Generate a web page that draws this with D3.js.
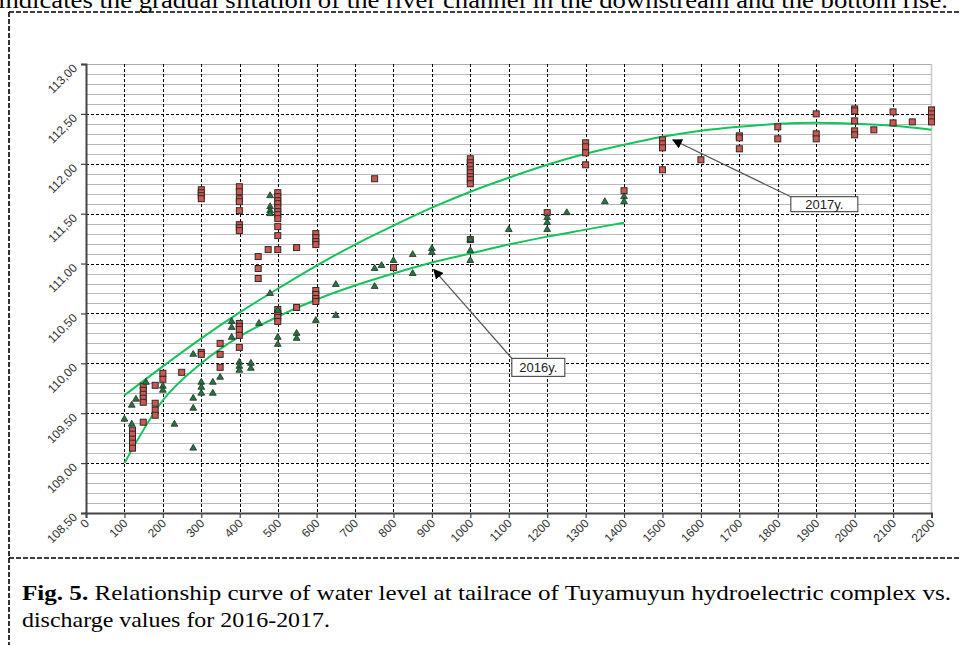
<!DOCTYPE html>
<html>
<head>
<meta charset="utf-8">
<script src="https://cdn.jsdelivr.net/npm/d3@7"></script>
<style>
  body { margin: 0; background: #fff; }
  svg { display: block; }
</style>
</head>
<body>
<svg width="960" height="645"></svg>
<script>
// measured points, 2017 (red squares)
var q2017 = [121,121,121,121,121, 149,149,149,149,149,149, 180,180,180,180, 200,200,
  249, 300,300,300,300,300,300, 349,349,349,
  399,399,399,399,399,399,399,399,399,399,399,399,399,
  448,448,448, 474,
  499,499,499,499,499,499,499,499,499,499,499,499,499,499,499,
  548,548, 598,598,598,598,598,598,598,598, 751, 800,
  1000,1000,1000,1000,1000,1000,1000,1000,1000, 1200, 1300,1300,1300,1300, 1400,
  1500,1500,1500,1500, 1600, 1700,1700,1700, 1800,1800, 1900,1900,1900,
  2000,2000,2000,2000,2000, 2050, 2100,2100, 2150, 2200,2200,2200,2200];
var h2017 = [109.33,109.29,109.24,109.20,109.15, 109.77,109.73,109.69,109.65,109.61,109.41,
  109.78,109.60,109.53,109.48, 109.90,109.84,
  109.91, 110.11,110.09,111.74,111.71,111.68,111.65, 110.20,110.09,109.96,
  110.40,110.37,110.34,110.28,110.16,111.77,111.72,111.65,111.62,111.53,111.39,111.36,111.33,
  111.07,110.95,110.85, 111.14,
  111.71,111.67,111.63,111.60,111.56,111.52,111.49,111.45,111.37,111.28,111.14,110.54,110.50,110.46,110.42,
  111.16,110.56, 111.30,111.26,111.22,111.19,110.73,110.69,110.65,110.62, 111.85, 110.96,
  112.05,112.01,111.98,111.94,111.91,111.87,111.84,111.80,111.24, 111.51, 112.21,112.17,112.11,111.99, 111.73,
  112.24,112.20,112.16,111.94, 112.04, 112.28,112.26,112.15, 112.37,112.25, 112.50,112.30,112.25,
  112.55,112.53,112.43,112.33,112.29, 112.34, 112.52,112.41, 112.42, 112.54,112.50,112.46,112.42];

// measured points, 2016 (green triangles)
var q2016 = [100, 119,119, 130, 156, 200,200, 230, 279,279,279,279, 300,300,300, 330,330, 349,
  379,379,379, 399,399,399, 429,429, 450, 479,479,479,479,479, 499,499,499, 548,548, 598,
  650,650, 751,751, 769, 800, 850,850, 900,900, 1000,1000,1000, 1100, 1200,1200,1200, 1251, 1350, 1400,1400];
var h2016 = [109.44, 109.58,109.39, 109.64, 109.81, 109.77,109.73, 109.39, 110.09,109.65,109.55,109.15,
  109.81,109.76,109.70, 109.81,109.70, 109.86, 110.42,110.36,110.26, 110.01,109.97,109.93, 110.00,109.95,
  110.40, 111.68,111.57,111.53,111.50,110.70, 110.53,110.26,110.19, 110.30,110.25, 110.43,
  110.79,110.48, 110.95,110.77, 110.98, 111.03, 111.09,110.90, 111.15,111.11, 111.24,111.13,111.03,
  111.34, 111.46,111.41,111.34, 111.51, 111.62, 111.67,111.62];

// trend curves
var trendQ2016 = [100,200,300,400,500,600,700,800,900,1000,1100,1200,1300,1400];
var trendH2016 = [109.00,109.63,110.00,110.27,110.47,110.64,110.78,110.90,111.01,111.10,111.19,111.27,111.34,111.41];
var trendQ2017 = [100,200,300,400,500,600,700,800,900,1000,1100,1200,1300,1400,1500,1600,1700,1800,1900,2000,2100,2200];
var trendH2017 = [109.68,109.97,110.25,110.51,110.75,110.98,111.19,111.38,111.56,111.72,111.86,111.99,112.10,112.19,
  112.27,112.33,112.37,112.40,112.41,112.40,112.38,112.34];

var xTicks = d3.range(0, 2201, 100);
var yTicks = [108.5, 109, 109.5, 110, 110.5, 111, 111.5, 112, 112.5, 113];

// annotations: label, tip (q,h), box corner (q,h)
var notes = [
  {label: "2016y.", tip: [905, 110.94], box: [1108, 110.05], w: 53, h: 18},
  {label: "2017y.", tip: [1527, 112.24], box: [1834, 111.67], w: 67, h: 15}
];

var svg = d3.select("svg");
var pL = 86, pR = 931.5, pT = 64, pB = 513;

var x = d3.scaleLinear().domain([0, 2200]).range([pL, pR]);
var y = d3.scaleLinear().domain([108.5, 113]).range([pB, pT]);

var serif = "'Liberation Serif', 'Times New Roman', serif";
var sans = "'Liberation Sans', Arial, sans-serif";

// clipped sentence at the top of the page
svg.append("text")
  .attr("x", -2).attr("y", 7.5)
  .attr("textLength", 950).attr("lengthAdjust", "spacingAndGlyphs")
  .style("font-family", serif)
  .style("font-size", "24px")
  .text("indicates the gradual siltation of the river channel in the downstream and the bottom rise.");

// dashed page frame
var frame = svg.append("g").attr("fill", "none").attr("stroke", "#000")
  .attr("stroke-width", 1.6).attr("stroke-dasharray", "5,2");
frame.append("line").attr("x1", 9).attr("x2", 960).attr("y1", 12).attr("y2", 12);
frame.append("line").attr("x1", 9).attr("x2", 9).attr("y1", 12).attr("y2", 645);
frame.append("line").attr("x1", 9).attr("x2", 960).attr("y1", 558).attr("y2", 558);

var g = svg.append("g");

// minor horizontal grid every 0.1
var minor = d3.range(108.6, 113, 0.1).filter(function(v) { return Math.abs(v * 2 - Math.round(v * 2)) > 0.01; });
g.selectAll(".minor").data(minor).enter().append("line")
  .attr("x1", pL).attr("x2", pR)
  .attr("y1", function(d) { return Math.round(y(d)) + 0.5; })
  .attr("y2", function(d) { return Math.round(y(d)) + 0.5; })
  .attr("stroke", "#b8b8b8").attr("stroke-width", 1);

// major horizontal dashed grid
g.selectAll(".hmaj").data(yTicks.filter(function(d) { return d > 108.5 && d < 113; })).enter().append("line")
  .attr("x1", pL).attr("x2", pR)
  .attr("y1", function(d) { return Math.round(y(d)) + 0.5; })
  .attr("y2", function(d) { return Math.round(y(d)) + 0.5; })
  .attr("stroke", "#000").attr("stroke-width", 1).attr("stroke-dasharray", "3,2");

// top line
g.append("line").attr("x1", pL).attr("x2", pR).attr("y1", y(113) + 0.5).attr("y2", y(113) + 0.5)
  .attr("stroke", "#aaa");

// vertical dashed grid
g.selectAll(".vmaj").data(xTicks.filter(function(d) { return d > 0 && d < 2200; })).enter().append("line")
  .attr("y1", pT).attr("y2", pB)
  .attr("x1", function(d) { return Math.round(x(d)) + 0.5; })
  .attr("x2", function(d) { return Math.round(x(d)) + 0.5; })
  .attr("stroke", "#000").attr("stroke-width", 1).attr("stroke-dasharray", "3,2");

// right edge
g.append("line").attr("x1", pR).attr("x2", pR).attr("y1", pT).attr("y2", pB)
  .attr("stroke", "#c8c8c8").attr("stroke-width", 1.5);

// axes
var yAxis = g.append("g").attr("transform", "translate(" + pL + ",0)")
  .call(d3.axisLeft(y).tickValues(yTicks).tickSize(5).tickFormat(""));
var xAxis = g.append("g").attr("transform", "translate(0," + pB + ")")
  .call(d3.axisBottom(x).tickValues(xTicks).tickSize(5).tickFormat(""));
[yAxis, xAxis].forEach(function(a) {
  a.select(".domain").attr("stroke", "#444").attr("stroke-width", 2);
  a.selectAll(".tick line").attr("stroke", "#444").attr("stroke-width", 1.2);
});

var fmt = function(d) { return d.toFixed(2).replace(".", ","); };

g.selectAll(".ylab").data(yTicks).enter().append("text")
  .attr("transform", function(d) { return "translate(" + (pL - 8) + "," + (y(d) + 5) + ") rotate(-45)"; })
  .attr("text-anchor", "end")
  .style("font-family", sans).style("font-size", "12px").style("fill", "#333")
  .text(fmt);

g.selectAll(".xlab").data(xTicks).enter().append("text")
  .attr("transform", function(d) { return "translate(" + (x(d) + 4) + "," + (pB + 11) + ") rotate(-45)"; })
  .attr("text-anchor", "end")
  .style("font-family", sans).style("font-size", "12px").style("fill", "#333")
  .text(function(d) { return d; });

// trend lines
var line = d3.line().curve(d3.curveMonotoneX)
  .x(function(d) { return x(d[0]); })
  .y(function(d) { return y(d[1]); });
[[trendQ2017, trendH2017], [trendQ2016, trendH2016]].forEach(function(t) {
  g.append("path")
    .datum(d3.zip(t[0], t[1]))
    .attr("fill", "none").attr("stroke", "#14c45a").attr("stroke-width", 2)
    .attr("d", line);
});

// points
var pts2016 = d3.zip(q2016, h2016);
var pts2017 = d3.zip(q2017, h2017);
var tri = d3.symbol().type(d3.symbolTriangle).size(20);

g.selectAll(".p17").data(pts2017).enter().append("rect")
  .attr("x", function(d) { return x(d[0]) - 3; })
  .attr("y", function(d) { return y(d[1]) - 3; })
  .attr("width", 6).attr("height", 6)
  .attr("fill", "#d0574f").attr("stroke", "#2a2a2a").attr("stroke-width", 1);

g.selectAll(".p16").data(pts2016).enter().append("path")
  .attr("d", tri)
  .attr("transform", function(d) { return "translate(" + x(d[0]) + "," + y(d[1]) + ")"; })
  .attr("fill", "#1d7a3e").attr("stroke", "#2a2a2a").attr("stroke-width", 0.8);

// annotations
svg.append("defs").append("marker")
  .attr("id", "head").attr("viewBox", "0 0 10 10").attr("refX", 9).attr("refY", 5)
  .attr("markerWidth", 10).attr("markerHeight", 10).attr("orient", "auto-start-reverse")
  .attr("markerUnits", "userSpaceOnUse")
  .append("path").attr("d", "M0,0 L10,5 L0,10 z").attr("fill", "#000");

notes.forEach(function(n) {
  var bx = x(n.box[0]), by = y(n.box[1]);
  g.append("line")
    .attr("x1", bx).attr("y1", by)
    .attr("x2", x(n.tip[0])).attr("y2", y(n.tip[1]))
    .attr("stroke", "#555").attr("stroke-width", 1.2)
    .attr("marker-end", "url(#head)");
  g.append("rect").attr("x", bx).attr("y", by).attr("width", n.w).attr("height", n.h)
    .attr("fill", "#fff").attr("stroke", "#333").attr("stroke-width", 1);
  g.append("text").attr("x", bx + n.w / 2).attr("y", by + n.h / 2 + 4.5)
    .attr("text-anchor", "middle")
    .style("font-family", sans).style("font-size", "13px").style("fill", "#222")
    .text(n.label);
});

// caption, glyphs squeezed to the reference width
var cap1 = svg.append("text").attr("x", 22).attr("y", 600)
  .attr("textLength", 951 - 22).attr("lengthAdjust", "spacingAndGlyphs")
  .style("font-family", serif).style("font-size", "22px");
cap1.append("tspan").style("font-weight", "bold").text("Fig. 5.");
cap1.append("tspan").text(" Relationship curve of water level at tailrace of Tuyamuyun hydroelectric complex vs.");

svg.append("text").attr("x", 22).attr("y", 627)
  .attr("textLength", 308).attr("lengthAdjust", "spacingAndGlyphs")
  .style("font-family", serif).style("font-size", "22px")
  .text("discharge values for 2016-2017.");
</script>
</body>
</html>
